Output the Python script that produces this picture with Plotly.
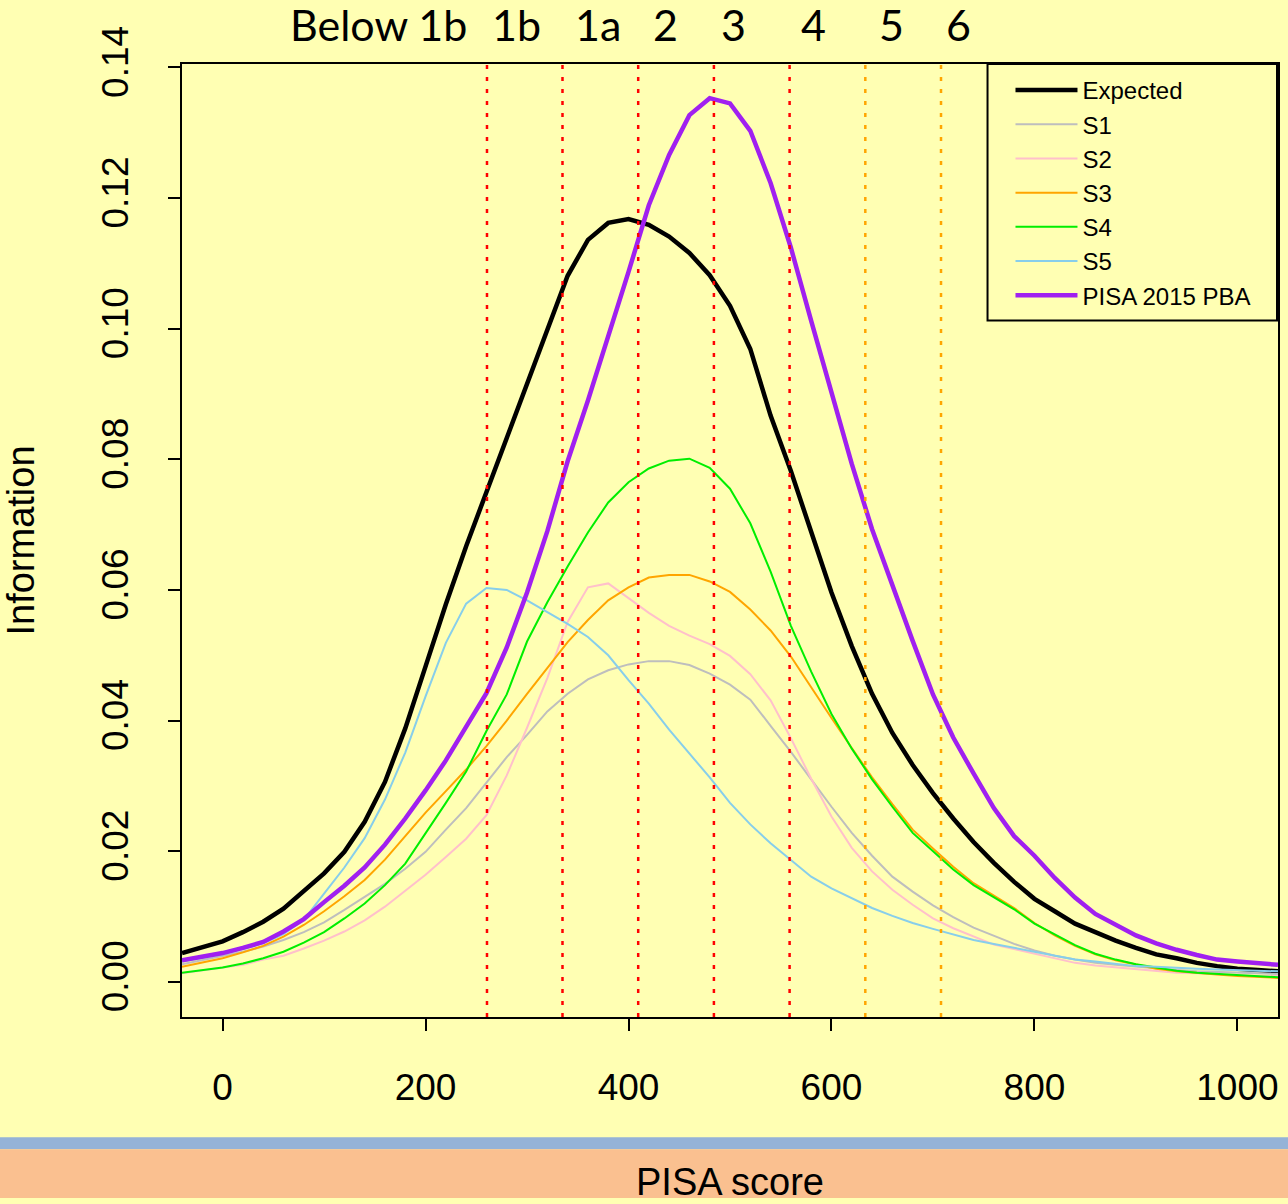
import plotly.graph_objects as go

# PISA score grid
score = [-40, -20, 0, 20, 40, 60, 80, 100, 120, 140, 160, 180, 200, 220, 240, 260, 280, 300,
         320, 340, 360, 380, 400, 420, 440, 460, 480, 500, 520, 540, 560, 580, 600, 620, 640,
         660, 680, 700, 720, 740, 760, 780, 800, 820, 840, 860, 880, 900, 920, 940, 960, 980,
         1000, 1020, 1040]

# Test information per design
expected = [0.0044, 0.0053, 0.0062, 0.0076, 0.0092, 0.0112, 0.0138,
            0.0166, 0.0199, 0.0245, 0.0306, 0.0388, 0.0483, 0.0578, 0.0667, 0.0750, 0.0830, 0.0913,
            0.0997, 0.1081, 0.1136, 0.1162, 0.1168, 0.1159, 0.1141, 0.1116, 0.1082, 0.1035, 0.0969, 0.0867,
            0.0782, 0.0688, 0.0596, 0.0514, 0.0441, 0.0381, 0.0332, 0.0289, 0.0250, 0.0214, 0.0182, 0.0153, 0.0127,
            0.0108, 0.0089, 0.0076, 0.0063, 0.0052, 0.0042, 0.0036, 0.0029, 0.0024, 0.0020, 0.0018, 0.0016]
s1 = [0.0027, 0.0033, 0.0039, 0.0046, 0.0054, 0.0064, 0.0076,
      0.0091, 0.0110, 0.0130, 0.0150, 0.0173, 0.0199, 0.0233, 0.0266, 0.0305, 0.0344, 0.0378,
      0.0414, 0.0441, 0.0463, 0.0477, 0.0486, 0.0491, 0.0491, 0.0485, 0.0472, 0.0455, 0.0432, 0.0392,
      0.0352, 0.0310, 0.0268, 0.0228, 0.0193, 0.0161, 0.0138, 0.0117, 0.0099, 0.0083, 0.0070, 0.0058, 0.0048,
      0.0040, 0.0034, 0.0029, 0.0026, 0.0023, 0.0020, 0.0018, 0.0016, 0.0015, 0.0014, 0.0013, 0.0012]
s2 = [0.0013, 0.0017, 0.0021, 0.0026, 0.0034, 0.0040, 0.0051,
      0.0063, 0.0077, 0.0094, 0.0115, 0.0140, 0.0164, 0.0191, 0.0219, 0.0255, 0.0316, 0.0389,
      0.0465, 0.0551, 0.0604, 0.0610, 0.0588, 0.0565, 0.0545, 0.0530, 0.0517, 0.0499, 0.0471, 0.0431,
      0.0373, 0.0311, 0.0253, 0.0205, 0.0169, 0.0141, 0.0118, 0.0097, 0.0082, 0.0069, 0.0057, 0.0050, 0.0043,
      0.0035, 0.0029, 0.0025, 0.0022, 0.0019, 0.0016, 0.0014, 0.0013, 0.0011, 0.0010, 0.0009, 0.0009]
s3 = [0.0023, 0.0029, 0.0036, 0.0045, 0.0055, 0.0069, 0.0087,
      0.0108, 0.0131, 0.0156, 0.0187, 0.0223, 0.0259, 0.0292, 0.0325, 0.0361, 0.0400, 0.0441,
      0.0481, 0.0520, 0.0554, 0.0584, 0.0604, 0.0619, 0.0623, 0.0623, 0.0613, 0.0597, 0.0570, 0.0538,
      0.0498, 0.0450, 0.0404, 0.0358, 0.0313, 0.0272, 0.0233, 0.0204, 0.0176, 0.0151, 0.0132, 0.0113, 0.0090,
      0.0071, 0.0055, 0.0042, 0.0033, 0.0026, 0.0020, 0.0016, 0.0013, 0.0011, 0.0009, 0.0007, 0.0006]
s4 = [0.0014, 0.0018, 0.0022, 0.0028, 0.0036, 0.0046, 0.0060,
      0.0076, 0.0097, 0.0120, 0.0148, 0.0181, 0.0227, 0.0274, 0.0322, 0.0384, 0.0440, 0.0521,
      0.0581, 0.0636, 0.0688, 0.0734, 0.0765, 0.0786, 0.0798, 0.0801, 0.0787, 0.0755, 0.0702, 0.0628,
      0.0545, 0.0475, 0.0410, 0.0357, 0.0310, 0.0268, 0.0228, 0.0200, 0.0172, 0.0148, 0.0129, 0.0111, 0.0089,
      0.0072, 0.0056, 0.0043, 0.0034, 0.0027, 0.0022, 0.0017, 0.0014, 0.0012, 0.0010, 0.0008, 0.0007]
s5 = [0.0031, 0.0036, 0.0042, 0.0050, 0.0059, 0.0073, 0.0095,
      0.0135, 0.0175, 0.0220, 0.0279, 0.0351, 0.0437, 0.0519, 0.0579, 0.0603, 0.0600, 0.0584,
      0.0566, 0.0548, 0.0528, 0.0500, 0.0462, 0.0426, 0.0386, 0.0350, 0.0313, 0.0274, 0.0241, 0.0212,
      0.0186, 0.0161, 0.0143, 0.0128, 0.0113, 0.0101, 0.0090, 0.0081, 0.0072, 0.0064, 0.0058, 0.0052, 0.0046,
      0.0040, 0.0034, 0.0031, 0.0027, 0.0024, 0.0023, 0.0021, 0.0020, 0.0019, 0.0018, 0.0017, 0.0016]
pisa2015_pba = [0.0033, 0.0038, 0.0044, 0.0052, 0.0061, 0.0077, 0.0096,
                0.0122, 0.0147, 0.0175, 0.0210, 0.0250, 0.0293, 0.0339, 0.0389, 0.0442, 0.0512, 0.0596,
                0.0690, 0.0797, 0.0890, 0.0987, 0.1087, 0.1189, 0.1266, 0.1327, 0.1353, 0.1345, 0.1303, 0.1223,
                0.1124, 0.1012, 0.0900, 0.0793, 0.0693, 0.0606, 0.0522, 0.0440, 0.0374, 0.0319, 0.0266, 0.0223, 0.0193,
                0.0159, 0.0129, 0.0104, 0.0087, 0.0071, 0.0059, 0.0049, 0.0041, 0.0034, 0.0031, 0.0028, 0.0026]

# Proficiency level boundaries (science) and their labels
level_cuts = [260.54, 334.94, 409.54, 484.14, 558.73, 633.33, 707.93]
level_cut_colors = ["#FF0000", "#FF0000", "#FF0000", "#FF0000", "#FF0000", "#FFA500", "#FFA500"]
level_names = ["Below 1b", "1b", "1a", "2", "3", "4", "5", "6"]
level_name_x = [154, 290, 370, 436, 503, 582, 659, 725]

x_ticks = [0, 200, 400, 600, 800, 1000]
y_ticks = [0.00, 0.02, 0.04, 0.06, 0.08, 0.10, 0.12, 0.14]

YELLOW = "#FFFFB3"
FONT = "Liberation Sans, Arial, sans-serif"

series = [
    ("Expected", expected, "#000000", 4.5),
    ("S1", s1, "#BEBEBE", 2),
    ("S2", s2, "#FFC0CB", 2),
    ("S3", s3, "#FFA500", 2),
    ("S4", s4, "#00EE00", 2),
    ("S5", s5, "#87CEEB", 2),
    ("PISA 2015 PBA", pisa2015_pba, "#A020F0", 4.5),
]

fig = go.Figure()
for name, vals, color, width in series:
    fig.add_trace(go.Scatter(x=score, y=vals, mode="lines", name=name,
                             line=dict(color=color, width=width)))

# dotted level boundaries
for cut, col in zip(level_cuts, level_cut_colors):
    fig.add_shape(type="line", xref="x", yref="paper", x0=cut, x1=cut, y0=0, y1=1,
                  line=dict(color=col, width=2.5, dash="4px,8px"), layer="above")

# level names along the top
for name, xpos in zip(level_names, level_name_x):
    fig.add_annotation(x=xpos, y=1.0417, xref="x", yref="paper", text=name, showarrow=False,
                       xanchor="center", yanchor="middle",
                       font=dict(family="Lato, Carlito, sans-serif", size=43, color="black"))

# footer bands
fig.add_shape(type="rect", xref="paper", yref="paper", x0=-0.17, x1=1.01, y0=-0.1387, y1=-0.1262,
              fillcolor="#95B3D7", line=dict(width=0), layer="below")
fig.add_shape(type="rect", xref="paper", yref="paper", x0=-0.17, x1=1.01, y0=-0.19, y1=-0.1387,
              fillcolor="#FAC090", line=dict(width=0), layer="below")

# legend frame
fig.add_shape(type="rect", xref="paper", yref="paper",
              x0=(989 - 182) / 1098, x1=(1279 - 182) / 1098,
              y0=(1023 - 322) / 959, y1=(1023 - 64) / 959,
              fillcolor=YELLOW, line=dict(color="black", width=2), layer="above")

fig.update_layout(
    width=1288, height=1204,
    margin=dict(l=182, r=8, t=64, b=181),
    paper_bgcolor=YELLOW, plot_bgcolor=YELLOW,
    font=dict(family=FONT, color="black"),
    showlegend=True,
    legend=dict(x=(1012 - 182) / 1098, xanchor="left", y=(1023 - 68) / 959, yanchor="top",
                bgcolor="rgba(0,0,0,0)", borderwidth=0,
                font=dict(family=FONT, size=24, color="black"), itemwidth=62),
    xaxis=dict(range=[-40, 1040], tickvals=x_ticks, ticks="outside", ticklen=12, tickwidth=2,
               tickcolor="black", showline=True, linewidth=2, linecolor="black", mirror=True,
               showgrid=False, zeroline=False, tickfont=dict(size=37), ticklabelstandoff=25,
               title=dict(text="PISA score", font=dict(size=38), standoff=61)),
    yaxis=dict(range=[-0.00539, 0.14053], tickvals=y_ticks, tickformat=".2f", ticks="outside",
               ticklen=12, tickwidth=2, tickcolor="black", showline=True, linewidth=2,
               linecolor="black", mirror=True, showgrid=False, zeroline=False,
               tickfont=dict(size=37), tickangle=-90, ticklabelstandoff=25,
               title=dict(text="Information", font=dict(size=38), standoff=49)),
)

fig.write_html("out.html")
